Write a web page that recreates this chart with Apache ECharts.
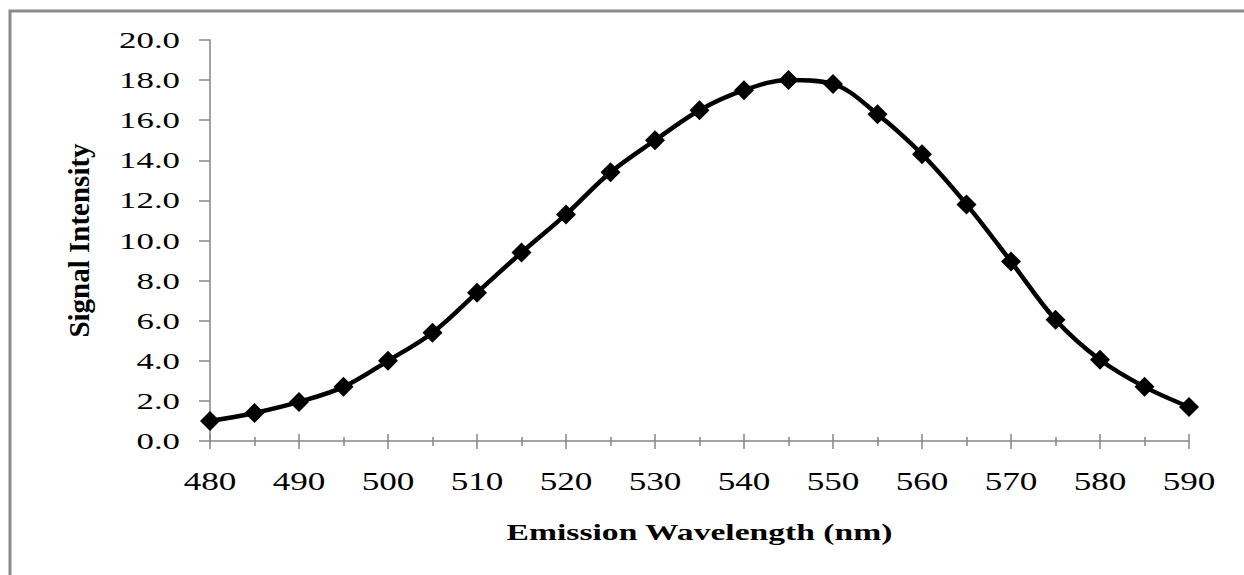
<!DOCTYPE html>
<html>
<head>
<meta charset="utf-8">
<script src="https://cdn.jsdelivr.net/npm/echarts@6/dist/echarts.min.js"></script>
<style>
  html, body { margin: 0; padding: 0; background: #fff; }
  #main { width: 1244px; height: 575px; }
</style>
</head>
<body>
<div id="main"></div>
<script>
const wavelengths = [480, 485, 490, 495, 500, 505, 510, 515, 520, 525, 530, 535, 540, 545, 550, 555, 560, 565, 570, 575, 580, 585, 590];
const intensity = [1.0, 1.4, 1.95, 2.7, 4.0, 5.4, 7.4, 9.4, 11.3, 13.4, 15.0, 16.5, 17.5, 18.0, 17.8, 16.3, 14.3, 11.8, 8.95, 6.05, 4.05, 2.7, 1.7];
const xTitle = 'Emission Wavelength (nm)';
const yTitle = 'Signal Intensity';

const seriesData = wavelengths.map((w, i) => [w, intensity[i]]);
const axisGray = '#868686';
const serif = '"Liberation Serif", "Times New Roman", serif';

const chart = echarts.init(document.getElementById('main'), null, { renderer: 'svg' });
chart.setOption({
  animation: false,
  backgroundColor: '#fff',
  grid: { left: 210, right: 55, top: 40, bottom: 134, containLabel: false },
  graphic: [
    { type: 'rect', shape: { x: 10, y: 11, width: 1400, height: 800 },
      style: { fill: 'none', stroke: '#8a8a8a', lineWidth: 3 }, silent: true }
  ],
  xAxis: [
    {
      type: 'value', min: 480, max: 590, interval: 10, position: 'bottom',
      name: xTitle, nameLocation: 'middle', nameGap: 79,
      nameTextStyle: { fontFamily: serif, fontWeight: 'bold', fontSize: 24, color: '#000' },
      axisLine: { show: true, lineStyle: { color: axisGray, width: 1.5 } },
      axisTick: { show: true, inside: false, length: 8, lineStyle: { color: axisGray, width: 1.5 } },
      minorTick: { show: true, splitNumber: 2, length: 5, lineStyle: { color: axisGray, width: 1.5 } },
      axisLabel: { fontFamily: serif, fontSize: 26, color: '#000', margin: 27 },
      splitLine: { show: false }, minorSplitLine: { show: false }
    },
    {
      type: 'value', min: 480, max: 590, interval: 10, position: 'bottom',
      axisLine: { show: false },
      axisTick: { show: true, inside: true, length: 7, lineStyle: { color: axisGray, width: 1.5 } },
      minorTick: { show: true, splitNumber: 2, length: 4, lineStyle: { color: axisGray, width: 1.5 } },
      axisLabel: { show: false },
      splitLine: { show: false }, minorSplitLine: { show: false }
    }
  ],
  yAxis: {
    type: 'value', min: 0, max: 20, interval: 2,
    name: yTitle, nameLocation: 'middle', nameGap: 117,
    nameTextStyle: { fontFamily: serif, fontWeight: 'bold', fontSize: 29, color: '#000' },
    axisLine: { show: true, lineStyle: { color: axisGray, width: 1.5 } },
    axisTick: { show: true, inside: false, length: 11, lineStyle: { color: axisGray, width: 1.5 } },
    axisLabel: { fontFamily: serif, fontSize: 24, color: '#000', margin: 30,
      formatter: v => v.toFixed(1) },
    splitLine: { show: false }
  },
  series: [{
    type: 'line',
    xAxisIndex: 0,
    data: seriesData,
    smooth: 0.35,
    symbol: 'diamond',
    symbolSize: 20,
    showAllSymbol: true,
    lineStyle: { color: '#000', width: 4.5 },
    itemStyle: { color: '#000' }
  }]
});

function stretchText() {
  document.querySelectorAll('#main text').forEach(t => {
    if (t.dataset.stretched) return;
    const s = t.textContent.trim();
    let f = 0;
    if (s === xTitle) f = 1.4;
    else if (/^\d+\.\d$/.test(s)) f = 1.45;
    else if (/^\d+$/.test(s)) f = 1.35;
    if (!f) return;
    const w = t.getComputedTextLength();
    t.setAttribute('textLength', (w * f).toFixed(1));
    t.setAttribute('lengthAdjust', 'spacingAndGlyphs');
    t.dataset.stretched = '1';
  });
}
stretchText();
chart.on('finished', stretchText);
</script>
</body>
</html>
